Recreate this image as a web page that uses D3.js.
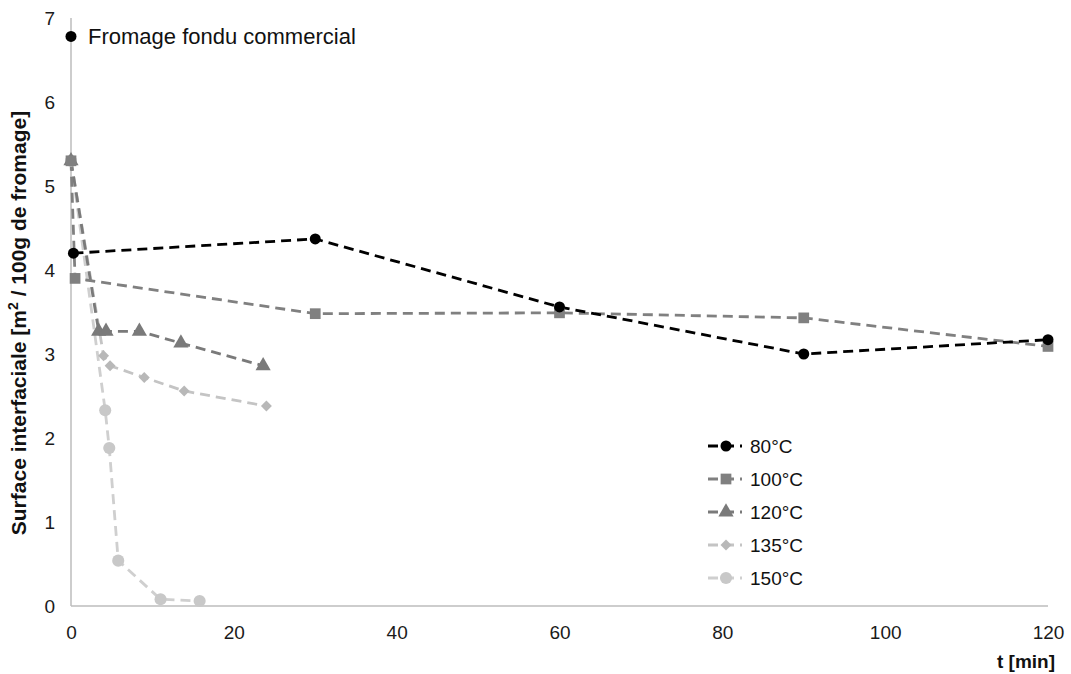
<!DOCTYPE html>
<html><head><meta charset="utf-8">
<script src="https://cdn.jsdelivr.net/npm/d3@7"></script>
<style>body{margin:0;background:#fff}svg{display:block;font-family:"Liberation Sans",Arial,sans-serif}</style>
</head><body><svg id="c" width="1071" height="674"></svg>
<script>
const xTicks = [0, 20, 40, 60, 80, 100, 120];
const yTicks = [0, 1, 2, 3, 4, 5, 6, 7];
const seriesNames = ["80°C", "100°C", "120°C", "135°C", "150°C"];
const t80 = [0.3, 30, 60, 90, 120];
const v80 = [4.2, 4.37, 3.56, 3.0, 3.17];
const t100 = [0, 0.5, 30, 60, 90, 120];
const v100 = [5.3, 3.9, 3.48, 3.49, 3.43, 3.09];
const t120 = [0, 3.4, 4.3, 8.4, 13.5, 23.6];
const v120 = [5.3, 3.27, 3.27, 3.27, 3.13, 2.86];
const t135 = [0, 4.0, 4.8, 9.0, 13.9, 24.0];
const v135 = [5.3, 2.98, 2.86, 2.72, 2.56, 2.38];
const t150 = [0, 4.2, 4.7, 5.8, 11.0, 15.8];
const v150 = [5.3, 2.33, 1.88, 0.54, 0.08, 0.06];
const commercialT = [0];
const commercialV = [6.78];
const commercialLabel = "Fromage fondu commercial";

const svg = d3.select("#c");
const x = d3.scaleLinear().domain([0, 120]).range([71, 1048]);
const y = d3.scaleLinear().domain([0, 7]).range([606, 18]);

const styles = [
  {line: "#000000", fill: "#000000", sym: d3.symbolCircle, size: 95, rot: 0},
  {line: "#808080", fill: "#808080", sym: d3.symbolSquare, size: 115, rot: 0},
  {line: "#7a7a7a", fill: "#7a7a7a", sym: d3.symbolTriangle, size: 100, rot: 0},
  {line: "#c4c4c4", fill: "#b8b8b8", sym: d3.symbolSquare, size: 60, rot: 45},
  {line: "#cfcfcf", fill: "#c8c8c8", sym: d3.symbolCircle, size: 115, rot: 0}
];
const data = [[t80, v80], [t100, v100], [t120, v120], [t135, v135], [t150, v150]].map(([t, v]) => t.map((d, i) => [d, v[i]]));

// axes
svg.append("line").attr("x1", x(0)).attr("x2", x(120)).attr("y1", y(0)).attr("y2", y(0)).attr("stroke", "#bdbdbd").attr("stroke-width", 1.5);
svg.append("line").attr("x1", x(0)).attr("x2", x(0)).attr("y1", y(0)).attr("y2", y(7)).attr("stroke", "#bdbdbd").attr("stroke-width", 1.5);

const xa = svg.append("g").attr("transform", `translate(0,${y(0)})`)
  .call(d3.axisBottom(x).tickValues(xTicks).tickSize(0).tickPadding(20));
xa.select(".domain").remove();
xa.selectAll("text").attr("font-size", 19).attr("fill", "#1a1a1a").attr("font-family", "Liberation Sans, Arial, sans-serif");

const ya = svg.append("g").attr("transform", `translate(${x(0)},0)`)
  .call(d3.axisLeft(y).tickValues(yTicks).tickFormat(d3.format("d")).tickSize(0).tickPadding(16));
ya.select(".domain").remove();
ya.selectAll("text").attr("font-size", 19).attr("fill", "#1a1a1a").attr("font-family", "Liberation Sans, Arial, sans-serif");

const line = d3.line().x(d => x(d[0])).y(d => y(d[1]));
const order = [4, 3, 2, 1, 0];
order.forEach(i => {
  svg.append("path").datum(data[i]).attr("d", line).attr("fill", "none")
    .attr("stroke", styles[i].line).attr("stroke-width", 2.8).attr("stroke-dasharray", "10,6");
});
order.forEach(i => {
  svg.append("g").selectAll("path").data(data[i]).join("path")
    .attr("d", d3.symbol().type(styles[i].sym).size(styles[i].size))
    .attr("transform", d => `translate(${x(d[0])},${y(d[1])}) rotate(${styles[i].rot})`)
    .attr("fill", styles[i].fill);
});

// commercial point
svg.append("g").selectAll("circle").data(commercialT.map((d, i) => [d, commercialV[i]])).join("circle")
  .attr("cx", d => x(d[0])).attr("cy", d => y(d[1])).attr("r", 5.5).attr("fill", "#000");
svg.append("text").attr("x", x(commercialT[0]) + 17).attr("y", y(commercialV[0]) + 8)
  .attr("font-size", 22).attr("fill", "#111").text(commercialLabel);

// legend
const lg = svg.append("g");
seriesNames.forEach((n, i) => {
  const yy = 446 + i * 33;
  lg.append("line").attr("x1", 708).attr("x2", 742).attr("y1", yy).attr("y2", yy)
    .attr("stroke", styles[i].line).attr("stroke-width", 2.8).attr("stroke-dasharray", "10,6");
  lg.append("path").attr("d", d3.symbol().type(styles[i].sym).size(styles[i].size))
    .attr("transform", `translate(726,${yy}) rotate(${styles[i].rot})`).attr("fill", styles[i].fill);
  lg.append("text").attr("x", 750).attr("y", yy + 7).attr("font-size", 19).attr("fill", "#111").text(n);
});

// axis titles
svg.append("text").attr("transform", `translate(26,${323}) rotate(-90)`)
  .attr("text-anchor", "middle").attr("font-size", 21).attr("font-weight", "bold").attr("fill", "#111")
  .html('Surface interfaciale [m<tspan dy="-8" font-size="14">2</tspan><tspan dy="8"> / 100g de fromage]</tspan>');
svg.append("text").attr("x", 1055).attr("y", 668).attr("text-anchor", "end")
  .attr("font-size", 19).attr("font-weight", "bold").attr("fill", "#111").text("t [min]");
</script></body></html>
